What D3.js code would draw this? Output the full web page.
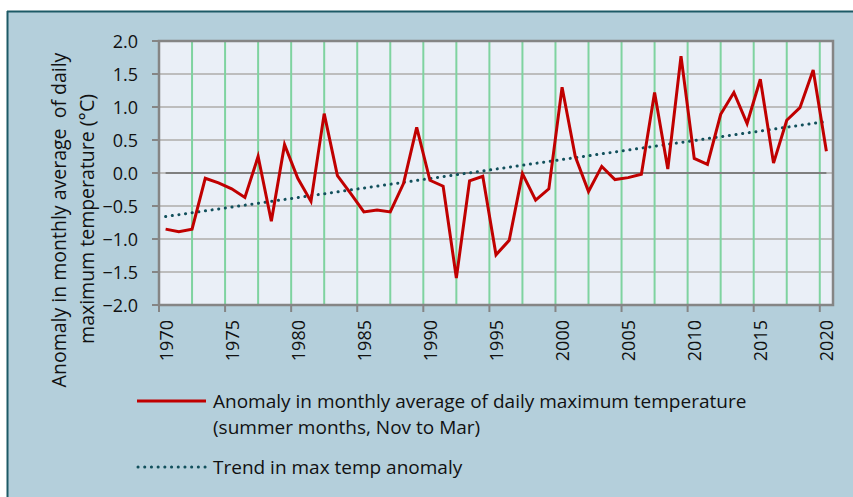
<!DOCTYPE html>
<html>
<head>
<meta charset="utf-8">
<script src="https://cdn.jsdelivr.net/npm/d3@7"></script>
<style>
  body { margin: 0; background: #fff; }
  text { font-family: "Open Sans", "Noto Sans", sans-serif; fill: #111; }
</style>
</head>
<body>
<svg id="chart" width="853" height="497"></svg>
<script>
const years = [1970, 1971, 1972, 1973, 1974, 1975, 1976, 1977, 1978, 1979,
       1980, 1981, 1982, 1983, 1984, 1985, 1986, 1987, 1988, 1989,
       1990, 1991, 1992, 1993, 1994, 1995, 1996, 1997, 1998, 1999,
       2000, 2001, 2002, 2003, 2004, 2005, 2006, 2007, 2008, 2009,
       2010, 2011, 2012, 2013, 2014, 2015, 2016, 2017, 2018, 2019, 2020]

const anomaly = [-0.85, -0.89, -0.85, -0.08, -0.15, -0.24, -0.37, 0.25, -0.73, 0.43,
       -0.08, -0.43, 0.90, -0.04, -0.31, -0.59, -0.56, -0.59, -0.16, 0.69,
       -0.11, -0.20, -1.59, -0.12, -0.05, -1.24, -1.02, -0.01, -0.41, -0.24,
       1.30, 0.25, -0.28, 0.10, -0.10, -0.07, -0.02, 1.22, 0.06, 1.77,
       0.22, 0.13, 0.89, 1.22, 0.75, 1.42, 0.15, 0.80, 0.99, 1.56, 0.33]

// trend line end values (first year, last year)
const trendYears = [1970, 2020]
const trend = [-0.66, 0.78]

const yTicks = [-2.0, -1.5, -1.0, -0.5, 0.0, 0.5, 1.0, 1.5, 2.0]
const xTicks = [1970, 1975, 1980, 1985, 1990, 1995, 2000, 2005, 2010, 2015, 2020]
const vGrid = [1972.5, 1975, 1977.5, 1980, 1982.5, 1985, 1987.5, 1990, 1992.5, 1995, 1997.5,
       2000, 2002.5, 2005, 2007.5, 2010, 2012.5, 2015, 2017.5, 2020]

const legendLabels = ['Anomaly in monthly average of daily maximum temperature',
       '(summer months, Nov to Mar)', 'Trend in max temp anomaly']

const plotL = 159, plotR = 833, plotT = 41, plotB = 305;

var chart = d3.select('#chart');
var xs = d3.scaleLinear().domain([1970, 2021]).range([plotL, plotR]);
var ys = d3.scaleLinear().domain([-2, 2]).range([plotB, plotT]);

// outer panel
chart.append('rect').attr('x', 7).attr('y', 11).attr('width', 853).attr('height', 497)
    .attr('fill', '#b4cfdb');
chart.append('line').attr('x1', 7).attr('x2', 853).attr('y1', 11.5).attr('y2', 11.5)
    .attr('stroke', '#1d5a66').attr('stroke-width', 2);
chart.append('line').attr('x1', 7.5).attr('x2', 7.5).attr('y1', 11).attr('y2', 497)
    .attr('stroke', '#1d5a66').attr('stroke-width', 2);

// plot area
chart.append('rect').attr('x', plotL).attr('y', plotT).attr('width', plotR - plotL).attr('height', plotB - plotT)
    .attr('fill', '#eaeff7');

chart.append('g').selectAll('line').data(yTicks).enter().append('line')
    .attr('x1', plotL - 7).attr('x2', plotR)
    .attr('y1', function (d) {return ys(d)}).attr('y2', function (d) {return ys(d)})
    .attr('stroke', '#bdbdbd').attr('stroke-width', 2);

chart.append('g').selectAll('line').data(vGrid).enter().append('line')
    .attr('x1', function (d) {return xs(d)}).attr('x2', function (d) {return xs(d)})
    .attr('y1', plotT).attr('y2', plotB)
    .attr('stroke', '#7fd3a0').attr('stroke-width', 2);

// zero line spans the categories
chart.append('line')
    .attr('x1', xs(years[0] + 0.5)).attr('x2', xs(years[years.length - 1] + 0.5))
    .attr('y1', ys(0)).attr('y2', ys(0))
    .attr('stroke', '#7f7f7f').attr('stroke-width', 2);

// frame
chart.append('rect').attr('x', plotL).attr('y', plotT).attr('width', plotR - plotL).attr('height', plotB - plotT)
    .attr('fill', 'none').attr('stroke', '#858585').attr('stroke-width', 2.5);

// y axis ticks + labels
chart.append('g').selectAll('line').data(yTicks).enter().append('line')
    .attr('x1', plotL - 7).attr('x2', plotL)
    .attr('y1', function (d) {return ys(d)}).attr('y2', function (d) {return ys(d)})
    .attr('stroke', '#858585').attr('stroke-width', 2);
chart.append('g').selectAll('text').data(yTicks).enter().append('text')
    .attr('x', 138).attr('y', function (d) {return ys(d)})
    .attr('text-anchor', 'end').attr('dominant-baseline', 'central')
    .style('font-size', '18px')
    .text(function (d) {return d3.format('.1f')(d)});

// x axis ticks + labels
chart.append('g').selectAll('line').data(xTicks).enter().append('line')
    .attr('x1', function (d) {return xs(d)}).attr('x2', function (d) {return xs(d)})
    .attr('y1', plotB).attr('y2', plotB + 7)
    .attr('stroke', '#858585').attr('stroke-width', 2);
chart.append('g').selectAll('text').data(xTicks).enter().append('text')
    .attr('transform', function (d) {return 'translate(' + xs(d + 0.5) + ',' + 320 + ') rotate(-90)'})
    .attr('text-anchor', 'end').attr('dominant-baseline', 'central')
    .style('font-size', '18px')
    .text(function (d) {return d});

// y title
chart.append('text')
    .attr('transform', 'translate(58,220) rotate(-90)')
    .attr('text-anchor', 'middle').attr('dominant-baseline', 'central')
    .style('font-size', '19.5px').style('white-space', 'pre')
    .text('Anomaly in monthly average  of daily');
chart.append('text')
    .attr('transform', 'translate(86,219) rotate(-90)')
    .attr('text-anchor', 'middle').attr('dominant-baseline', 'central')
    .style('font-size', '19.5px')
    .text('maximum temperature (°C)');

// trend
var line = d3.line()
    .x(function (d) {return xs(d[0] + 0.5)})
    .y(function (d) {return ys(d[1])});

chart.append('path')
    .datum(trendYears.map(function (y, i) {return [y, trend[i]]}))
    .attr('d', line)
    .attr('fill', 'none').attr('stroke', '#12505c').attr('stroke-width', 3)
    .attr('stroke-linecap', 'round').attr('stroke-dasharray', '0.1,6.6');

// anomaly series
chart.append('path')
    .datum(years.map(function (y, i) {return [y, anomaly[i]]}))
    .attr('d', line)
    .attr('fill', 'none').attr('stroke', '#c00000').attr('stroke-width', 3)
    .attr('stroke-linejoin', 'miter');

// legend
chart.append('line').attr('x1', 137).attr('x2', 206).attr('y1', 401).attr('y2', 401)
    .attr('stroke', '#c00000').attr('stroke-width', 3);
chart.append('line').attr('x1', 138).attr('x2', 206).attr('y1', 467).attr('y2', 467)
    .attr('stroke', '#12505c').attr('stroke-width', 3)
    .attr('stroke-linecap', 'round').attr('stroke-dasharray', '0.1,6.6');

chart.selectAll('legendlabel')
    .data(legendLabels)
    .enter()
    .append('text')
    .attr('x', 213)
    .attr('y', function (d, i) {return [401, 427, 467][i]})
    .attr('dominant-baseline', 'central')
    .style('font-size', '19px')
    .text(function (d) {return d});
</script>
</body>
</html>
